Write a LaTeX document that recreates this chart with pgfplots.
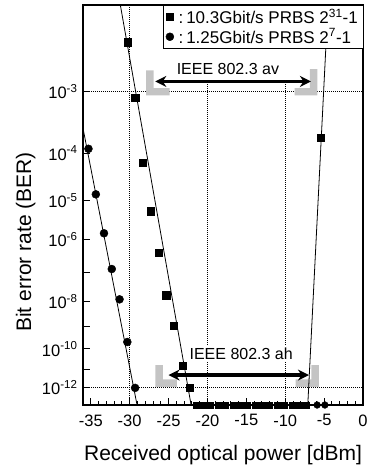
\documentclass[border=0pt]{standalone}
\usepackage{fontspec}
\setmainfont{Liberation Sans}
\usepackage{pgfplots}
\pgfplotsset{compat=1.18}
\usetikzlibrary{arrows.meta}
\definecolor{lgray}{RGB}{196,196,196}

\begin{document}
\begin{tikzpicture}
\begin{axis}[
  name=ax,
  scale only axis, width=280pt, height=400pt,
  xmin=-36, xmax=0, ymin=2, ymax=13,
  ymode=log, y dir=reverse,
  clip=false,
  axis line style={line width=1.1pt},
  tick align=inside,
  xtick={-35,-30,-25,-20,-15,-10,-5,0},
  xticklabels={-35,-30,-25,-20,-15,-10,-5,0},
  minor x tick num=4,
  xtick pos=bottom, ytick pos=left,
  ytick={3,4,5,6,7,8,9,10,11,12},
  yticklabels={10\textsuperscript{-3},10\textsuperscript{-4},10\textsuperscript{-5},10\textsuperscript{-6},,10\textsuperscript{-8},,10\textsuperscript{-10},,10\textsuperscript{-12}},
  yminorticks=false,
  major tick length=7pt, minor tick length=4pt,
  tick style={black, line width=0.9pt},
  ticklabel style={font=\fontsize{16.5}{19}\selectfont},
  xticklabel style={yshift=-6pt},
  yticklabel style={xshift=-2pt},
  xlabel={Received optical power [dBm]},
  ylabel={Bit error rate (BER)},
  label style={font=\fontsize{21}{25}\selectfont},
  xlabel style={at={(axis description cs:0.5,0)}, anchor=base, yshift=-55pt},
  ylabel style={at={(axis description cs:-0.205,0.4075)}, anchor=center},
  legend style={at={(1,1)}, anchor=north east, draw=black, fill=white,
    font=\fontsize{17}{20}\selectfont, inner xsep=3pt, inner ysep=1.5pt,
    row sep=0pt, cells={anchor=west}},
  legend cell align=left,
]
% guide lines
\draw[densely dotted, line width=1pt] (axis cs:-30,2) -- (axis cs:-30,13);
\draw[densely dotted, line width=1pt] (axis cs:-20,2.9) -- (axis cs:-20,13);
\draw[densely dotted, line width=1pt] (axis cs:-10,2.9) -- (axis cs:-10,13);
\draw[densely dotted, line width=1pt] (axis cs:-36,3) -- (axis cs:0,3);
\draw[densely dotted, line width=1pt] (axis cs:-36,12) -- (axis cs:0,12);

% gray brackets
\fill[lgray] (axis cs:-27.87,2.716) -- (axis cs:-26.93,2.716) -- (axis cs:-26.93,2.950) -- (axis cs:-24.87,2.950) -- (axis cs:-24.87,3.051) -- (axis cs:-27.87,3.051) -- cycle;
\fill[lgray] (axis cs:-5.88,2.70) -- (axis cs:-6.83,2.70) -- (axis cs:-6.83,2.950) -- (axis cs:-8.80,2.950) -- (axis cs:-8.80,3.051) -- (axis cs:-5.88,3.051) -- cycle;
\fill[lgray] (axis cs:-26.71,10.79) -- (axis cs:-25.72,10.79) -- (axis cs:-25.72,11.53) -- (axis cs:-23.92,11.53) -- (axis cs:-23.92,11.94) -- (axis cs:-26.71,11.94) -- cycle;
\fill[lgray] (axis cs:-5.67,10.79) -- (axis cs:-6.65,10.79) -- (axis cs:-6.65,11.53) -- (axis cs:-8.67,11.53) -- (axis cs:-8.67,11.94) -- (axis cs:-5.67,11.94) -- cycle;

% 10.3 Gbit/s data
\addplot[only marks, mark=square*, mark size=3.6pt, black] coordinates {
  (-30.3,2.38) (-29.3,3.09) (-28.3,4.19) (-27.3,5.25) (-26.3,6.37)
  (-25.3,7.78) (-24.3,8.98) (-23.2,10.8) (-22.3,12.0) (-5.4,3.72)
};
\addlegendentry{\,:\,10.3Gbit/s PRBS 2\textsuperscript{31}-1}
% 1.25 Gbit/s data
\addplot[only marks, mark=*, mark size=4pt, black] coordinates {
  (-35.3,3.92) (-34.35,4.85) (-33.3,5.82) (-32.3,6.88) (-31.3,7.93)
  (-30.3,9.68) (-29.3,12.0)
};
\addlegendentry{\,:\,1.25Gbit/s PRBS 2\textsuperscript{7}-1}

% error-free points on the axis
\addplot[only marks, mark=square*, mark size=3pt, black, forget plot] coordinates {
  (-21.5,13) (-20.55,13) (-19.6,13) (-18.65,13) (-17.7,13) (-16.75,13)
  (-15.8,13) (-14.85,13) (-13.9,13) (-12.95,13) (-12.0,13) (-11.05,13)
  (-10.1,13) (-9.15,13) (-8.2,13) (-7.25,13)
};
\addplot[only marks, mark=*, mark size=3.4pt, black, forget plot] coordinates {
  (-5.9,13) (-4.9,13)
};

% fit lines
\addplot[black, line width=0.8pt, forget plot] coordinates {(-31.2,2) (-22.1,13)};
\addplot[black, line width=0.8pt, forget plot] coordinates {(-36,3.56) (-29.05,13)};
\addplot[black, line width=0.8pt, forget plot] coordinates {(-7.1,13) (-4.5,2)};

% arrows
\draw[{Stealth[length=11pt,width=11pt]}-{Stealth[length=11pt,width=11pt]}, line width=3.3pt] (axis cs:-26.7,2.86) -- (axis cs:-6.7,2.86);
\draw[{Stealth[length=11pt,width=11pt]}-{Stealth[length=11pt,width=11pt]}, line width=3.3pt] (axis cs:-25.0,11.3) -- (axis cs:-6.95,11.3);

\node[fill=white, inner sep=2pt, font=\fontsize{16}{19}\selectfont] at (axis cs:-17.37,2.70) {IEEE 802.3 av};
\node[fill=white, inner sep=2pt, font=\fontsize{16}{19}\selectfont] at (axis cs:-15.66,10.25) {IEEE 802.3 ah};
\end{axis}
\pgfresetboundingbox
\path[use as bounding box] ([xshift=-83pt,yshift=-61pt]ax.south west) rectangle ([xshift=4pt,yshift=5pt]ax.north east);
\end{tikzpicture}
\end{document}
